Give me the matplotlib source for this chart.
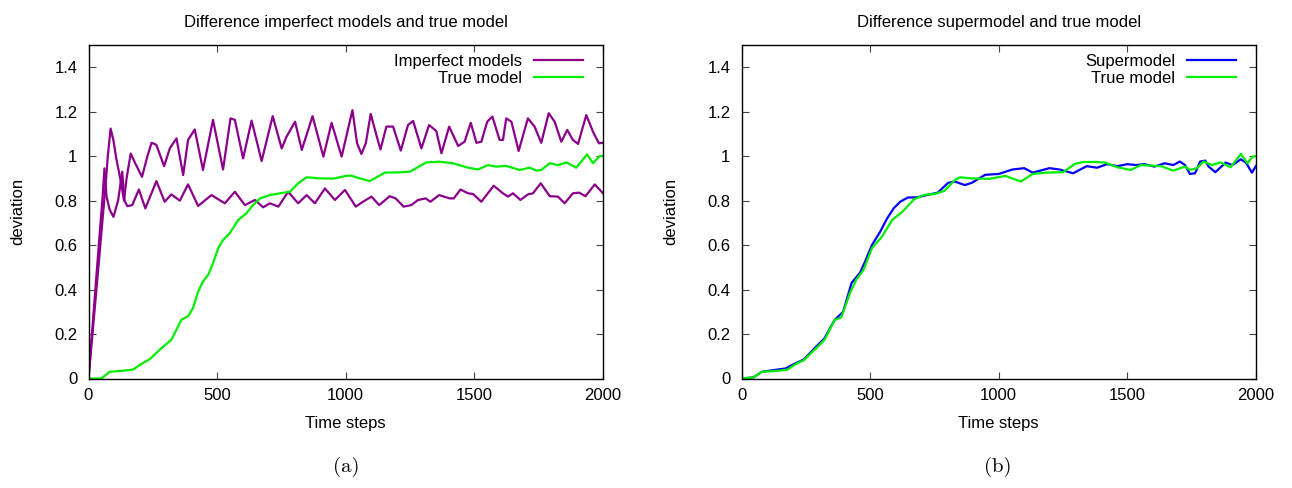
import numpy as np
import matplotlib
matplotlib.use("Agg")
import matplotlib.pyplot as plt

plt.rcParams['font.family'] = ['Liberation Sans', 'DejaVu Sans']
plt.rcParams['font.size'] = 12

# --- panel (a): imperfect models vs true model ---
imp_lo_t = [0, 20, 40, 55, 62, 70, 82, 97, 115, 131, 140, 151, 170, 196, 221, 264, 296, 322,
            355, 387, 426, 478, 530, 569, 608, 647, 679, 705, 738, 776, 815, 848, 880, 919,
            958, 997, 1039, 1067, 1100, 1130, 1171, 1194, 1225, 1255, 1281, 1311, 1329, 1363,
            1404, 1420, 1446, 1475, 1495, 1527, 1575, 1611, 1631, 1650, 1679, 1708, 1728,
            1758, 1793, 1825, 1851, 1883, 1907, 1932, 1968, 2000]
imp_lo_v = [0, 0.3, 0.6, 0.82, 0.945, 0.82, 0.76, 0.727, 0.80, 0.93, 0.80, 0.775, 0.78, 0.85,
            0.765, 0.888, 0.795, 0.828, 0.80, 0.873, 0.776, 0.825, 0.788, 0.84, 0.78, 0.803,
            0.77, 0.788, 0.773, 0.84, 0.788, 0.825, 0.788, 0.855, 0.803, 0.848, 0.773, 0.795,
            0.818, 0.78, 0.82, 0.81, 0.773, 0.78, 0.803, 0.81, 0.795, 0.825, 0.81, 0.81, 0.85,
            0.833, 0.83, 0.795, 0.867, 0.833, 0.818, 0.833, 0.803, 0.828, 0.833, 0.878, 0.82,
            0.818, 0.788, 0.833, 0.836, 0.82, 0.873, 0.833]

imp_hi_t = [0, 20, 40, 55, 65, 75, 86, 97, 108, 125, 138, 148, 164, 182, 208, 229, 245, 257,
            264, 294, 316, 342, 368, 387, 413, 445, 484, 523, 552, 569, 601, 634, 673, 716,
            751, 770, 803, 829, 871, 913, 945, 984, 1026, 1044, 1061, 1078, 1097, 1119, 1135,
            1158, 1184, 1214, 1242, 1262, 1294, 1324, 1352, 1372, 1402, 1437, 1462, 1486,
            1508, 1527, 1550, 1570, 1598, 1611, 1624, 1644, 1672, 1708, 1734, 1760, 1789,
            1812, 1838, 1861, 1883, 1903, 1935, 1961, 1984, 2000]
imp_hi_v = [0, 0.26, 0.52, 0.72, 0.85, 1.0, 1.124, 1.07, 0.99, 0.89, 0.80, 0.9, 1.012, 0.967,
            0.907, 1.0, 1.06, 1.055, 1.05, 0.955, 1.035, 1.08, 0.915, 1.073, 1.12, 0.938,
            1.163, 0.94, 1.17, 1.163, 0.99, 1.16, 0.978, 1.18, 1.035, 1.088, 1.155, 1.028,
            1.18, 0.998, 1.15, 0.998, 1.207, 1.058, 1.01, 1.058, 1.19, 1.095, 1.03, 1.133,
            1.133, 1.025, 1.14, 1.158, 1.035, 1.14, 1.113, 1.013, 1.133, 1.046, 1.065, 1.15,
            1.06, 1.065, 1.155, 1.178, 1.073, 1.073, 1.17, 1.155, 1.023, 1.17, 1.133, 1.06,
            1.193, 1.155, 1.065, 1.118, 1.073, 1.055, 1.185, 1.11, 1.058, 1.06]

true_a_t = [0, 50, 82, 134, 173, 205, 238, 283, 322, 361, 387, 406, 426, 445, 465, 484, 504,
            523, 549, 582, 614, 640, 666, 705, 744, 783, 815, 848, 900, 952, 1004, 1022, 1054,
            1093, 1152, 1203, 1249, 1313, 1365, 1417, 1469, 1514, 1553, 1585, 1624, 1676, 1715,
            1741, 1760, 1793, 1825, 1858, 1896, 1938, 1961, 1987, 2000]
true_a_v = [0, 0, 0.03, 0.035, 0.04, 0.065, 0.087, 0.136, 0.174, 0.264, 0.28, 0.316, 0.39,
            0.436, 0.466, 0.518, 0.586, 0.623, 0.653, 0.713, 0.743, 0.78, 0.81, 0.825, 0.833,
            0.84, 0.878, 0.905, 0.90, 0.899, 0.912, 0.912, 0.90, 0.888, 0.926, 0.927, 0.93,
            0.972, 0.975, 0.968, 0.95, 0.94, 0.96, 0.953, 0.956, 0.938, 0.948, 0.935, 0.938,
            0.968, 0.96, 0.972, 0.948, 1.008, 0.968, 1.0, 1.002]

# --- panel (b): supermodel vs true model ---
super_t = [0, 46, 79, 138, 171, 204, 243, 283, 322, 362, 395, 428, 461, 480, 507, 539, 566,
           592, 618, 647, 684, 724, 763, 803, 829, 868, 895, 947, 1000, 1053, 1099, 1132, 1197,
           1237, 1289, 1342, 1382, 1421, 1461, 1500, 1533, 1566, 1605, 1645, 1678, 1704, 1724,
           1743, 1763, 1783, 1803, 1816, 1842, 1882, 1908, 1941, 1961, 1984, 2000]
super_v = [0, 0.005, 0.03, 0.04, 0.045, 0.065, 0.086, 0.135, 0.18, 0.263, 0.30, 0.43, 0.476,
           0.525, 0.60, 0.66, 0.72, 0.766, 0.796, 0.814, 0.815, 0.826, 0.836, 0.88, 0.886,
           0.87, 0.88, 0.916, 0.92, 0.94, 0.946, 0.926, 0.946, 0.94, 0.923, 0.955, 0.948,
           0.964, 0.955, 0.964, 0.96, 0.964, 0.953, 0.968, 0.96, 0.976, 0.96, 0.92, 0.923,
           0.976, 0.98, 0.953, 0.928, 0.971, 0.96, 0.986, 0.971, 0.926, 0.956]

true_b_t = [0, 46, 79, 145, 178, 211, 243, 289, 322, 362, 388, 421, 447, 474, 507, 546, 586,
            625, 671, 711, 750, 789, 829, 849, 895, 961, 1026, 1086, 1132, 1184, 1250, 1296,
            1329, 1375, 1414, 1461, 1513, 1553, 1632, 1678, 1724, 1743, 1770, 1796, 1829, 1862,
            1901, 1941, 1967, 1987, 2000]
true_b_v = [0, 0.005, 0.03, 0.035, 0.04, 0.065, 0.083, 0.135, 0.173, 0.263, 0.275, 0.383,
            0.446, 0.488, 0.586, 0.638, 0.713, 0.75, 0.806, 0.826, 0.83, 0.844, 0.893, 0.905,
            0.90, 0.898, 0.911, 0.886, 0.92, 0.926, 0.928, 0.965, 0.974, 0.974, 0.971, 0.95,
            0.938, 0.96, 0.955, 0.935, 0.953, 0.938, 0.946, 0.976, 0.96, 0.972, 0.95, 1.01,
            0.968, 0.998, 1.0]

purple = '#8b008b'
green = '#00ee00'
blue = '#0000ff'
W, H = 1292, 488
AX_W, AX_H = 514.5, 333.5

fig = plt.figure(figsize=(W / 100, H / 100), dpi=100)


def style_axes(ax, title):
    ax.set_xlim(0, 2000)
    ax.set_ylim(0, 1.5)
    ax.set_xticks([0, 500, 1000, 1500, 2000])
    ax.set_yticks([0, 0.2, 0.4, 0.6, 0.8, 1.0, 1.2, 1.4])
    ax.set_yticklabels(['0', '0.2', '0.4', '0.6', '0.8', '1', '1.2', '1.4'])
    ax.tick_params(direction='in', length=5, width=0.8, color='#444444',
                   top=True, right=True, labelsize=12)
    ax.tick_params(axis='x', pad=7)
    ax.tick_params(axis='y', pad=8)
    for s in ax.spines.values():
        s.set_linewidth(1.0)
    ax.set_title(title, fontsize=12, pad=13)
    ax.set_xlabel('Time steps', fontsize=12, labelpad=9)
    ax.set_ylabel('deviation', fontsize=12, labelpad=21)


ax1 = fig.add_axes([88.5 / W, (H - 378.5) / H, AX_W / W, AX_H / H])
ax1.plot(imp_lo_t, imp_lo_v, color=purple, lw=1.6, label='Imperfect models')
ax1.plot(imp_hi_t, imp_hi_v, color=purple, lw=1.6)
ax1.plot(true_a_t, true_a_v, color=green, lw=1.6, label='True model')
style_axes(ax1, 'Difference imperfect models and true model')

ax2 = fig.add_axes([741.5 / W, (H - 378.5) / H, AX_W / W, AX_H / H])
ax2.plot(super_t, super_v, color=blue, lw=1.6, label='Supermodel')
ax2.plot(true_b_t, true_b_v, color=green, lw=1.6, label='True model')
style_axes(ax2, 'Difference supermodel and true model')

for ax in (ax1, ax2):
    ax.legend(loc='upper right', bbox_to_anchor=(1 - 20 / AX_W, 1 - 9 / AX_H),
              frameon=False, markerfirst=False, handlelength=2.95,
              handletextpad=0.7, labelspacing=0.13, borderaxespad=0, borderpad=0,
              fontsize=12)

fig.text(346 / W, 1 - 467 / H, '(a)', family='cmr10', fontsize=15, ha='center', va='center')
fig.text(998 / W, 1 - 467 / H, '(b)', family='cmr10', fontsize=15, ha='center', va='center')

fig.savefig('out.png', dpi=100)
